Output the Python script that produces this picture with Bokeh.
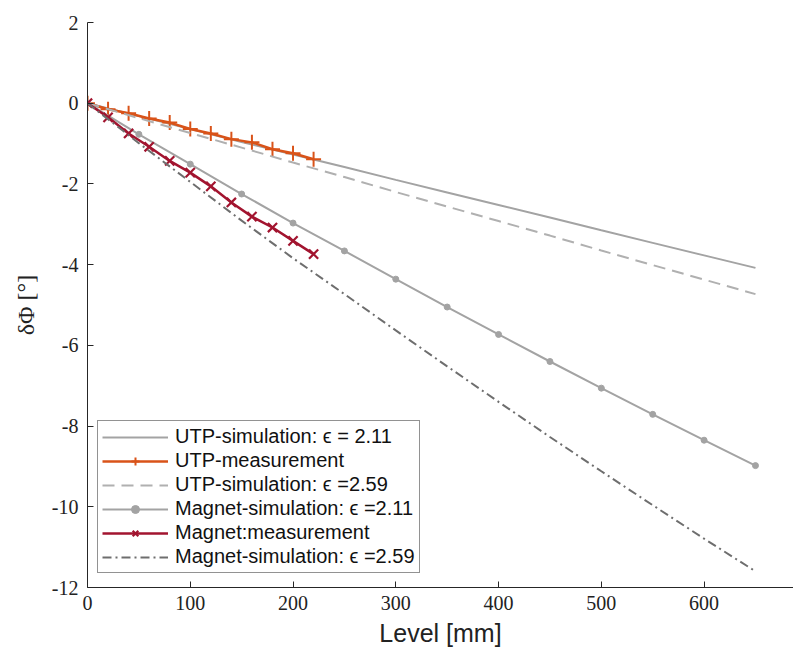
from bokeh.plotting import figure
from bokeh.models import Range1d, FixedTicker, Legend, LegendItem, PrintfTickFormatter
from bokeh.embed import file_html
from bokeh.resources import INLINE

# ---------------- data ----------------
sim_level = [0, 50, 100, 150, 200, 250, 300, 350, 400, 450, 500, 550, 600, 650]
utp_sim_211 = [0, -0.32, -0.64, -0.96, -1.27, -1.58, -1.90, -2.21, -2.52, -2.83, -3.15, -3.46, -3.77, -4.08]
utp_sim_259 = [0, -0.37, -0.74, -1.10, -1.47, -1.83, -2.20, -2.56, -2.92, -3.28, -3.65, -4.01, -4.37, -4.73]
mag_sim_211 = [0, -0.77, -1.51, -2.25, -2.97, -3.66, -4.36, -5.05, -5.73, -6.40, -7.06, -7.71, -8.35, -8.98]
mag_sim_259 = [0, -0.99, -1.95, -2.91, -3.84, -4.73, -5.63, -6.52, -7.40, -8.27, -9.12, -9.96, -10.79, -11.60]

meas_level = [0, 20, 40, 60, 80, 100, 120, 140, 160, 180, 200, 220]
utp_meas = [0, -0.15, -0.25, -0.38, -0.48, -0.64, -0.75, -0.89, -0.97, -1.14, -1.24, -1.39]
mag_meas = [0, -0.35, -0.75, -1.08, -1.43, -1.72, -2.06, -2.46, -2.81, -3.08, -3.41, -3.74]

x_ticks = [0, 100, 200, 300, 400, 500, 600]
y_ticks = [-12, -10, -8, -6, -4, -2, 0, 2]

labels = [
    "UTP-simulation: \u03f5 = 2.11",
    "UTP-measurement",
    "UTP-simulation: \u03f5 =2.59",
    "Magnet-simulation: \u03f5 =2.11",
    "Magnet:measurement",
    "Magnet-simulation: \u03f5 =2.59",
]

# ---------------- styles ----------------
ORANGE = "#D95319"
RED = "#A2142F"
GRAY = "#a3a3a3"
GRAY_D = "#b0b0b0"
GRAY_DD = "#6e6e6e"
AX = "#262626"
SERIF = "'Liberation Serif', 'DejaVu Serif', serif"
SANS = "Liberation Sans"

p = figure(width=793, height=659, output_backend="svg", toolbar_location=None,
           x_range=Range1d(0, 687), y_range=Range1d(-12, 2),
           min_border_left=87, min_border_right=0, min_border_top=22, min_border_bottom=72)
p.xgrid.visible = False
p.ygrid.visible = False
p.outline_line_color = None
p.background_fill_color = "white"
p.border_fill_color = "white"

r1 = p.line(sim_level, utp_sim_211, line_color=GRAY, line_width=2)
r2l = p.line(meas_level, utp_meas, line_color=ORANGE, line_width=2.5)
r2m = p.scatter(meas_level, utp_meas, marker="cross", size=15, line_color=ORANGE, line_width=2)
r3 = p.line(sim_level, utp_sim_259, line_color=GRAY_D, line_width=2, line_dash="12 7")
r4l = p.line(sim_level, mag_sim_211, line_color=GRAY, line_width=2)
r4m = p.scatter(sim_level, mag_sim_211, marker="circle", size=6, fill_color=GRAY, line_color=GRAY)
r5l = p.line(meas_level, mag_meas, line_color=RED, line_width=2.5)
r5m = p.scatter(meas_level, mag_meas, marker="x", size=13, line_color=RED, line_width=2.2)
r6 = p.line(sim_level, mag_sim_259, line_color=GRAY_DD, line_width=2, line_dash="9 4 2 4")

legend = Legend(items=[
    LegendItem(label=labels[0], renderers=[r1]),
    LegendItem(label=labels[1], renderers=[r2l, r2m]),
    LegendItem(label=labels[2], renderers=[r3]),
    LegendItem(label=labels[3], renderers=[r4l, r4m]),
    LegendItem(label=labels[4], renderers=[r5l, r5m]),
    LegendItem(label=labels[5], renderers=[r6]),
], location=(10, 14))
legend.label_text_font = SANS
legend.label_text_font_size = "20px"
legend.label_text_color = "#111111"
legend.glyph_width = 66
legend.glyph_height = 20
legend.label_height = 20
legend.spacing = 1
legend.padding = 4
legend.margin = 0
legend.label_standoff = 7
legend.border_line_color = AX
legend.border_line_width = 1
legend.background_fill_alpha = 1
p.add_layout(legend, "center")

for ax in (p.xaxis[0], p.yaxis[0]):
    ax.axis_line_color = AX
    ax.axis_line_width = 1
    ax.major_tick_line_color = AX
    ax.major_tick_in = 6
    ax.major_tick_out = 0
    ax.minor_tick_line_color = None
    ax.major_label_text_font = SERIF
    ax.major_label_text_font_size = "20px"
    ax.major_label_text_color = "#222222"
    ax.formatter = PrintfTickFormatter(format="%d")

p.xaxis.ticker = FixedTicker(ticks=x_ticks)
p.yaxis.ticker = FixedTicker(ticks=y_ticks)
p.xaxis.major_label_standoff = 8
p.yaxis.major_label_standoff = 9

p.xaxis.axis_label = "Level [mm]"
p.xaxis.axis_label_text_font = SANS
p.xaxis.axis_label_text_font_style = "normal"
p.xaxis.axis_label_text_font_size = "25px"
p.xaxis.axis_label_text_color = "#222222"
p.xaxis.axis_label_standoff = 6

p.yaxis.axis_label = "\u03b4\u03a6 [\u00b0]"
p.yaxis.axis_label_text_font = SERIF
p.yaxis.axis_label_text_font_style = "normal"
p.yaxis.axis_label_text_font_size = "24px"
p.yaxis.axis_label_text_color = "#222222"
p.yaxis.axis_label_standoff = 10

open("out.html", "w").write(file_html(p, INLINE))
